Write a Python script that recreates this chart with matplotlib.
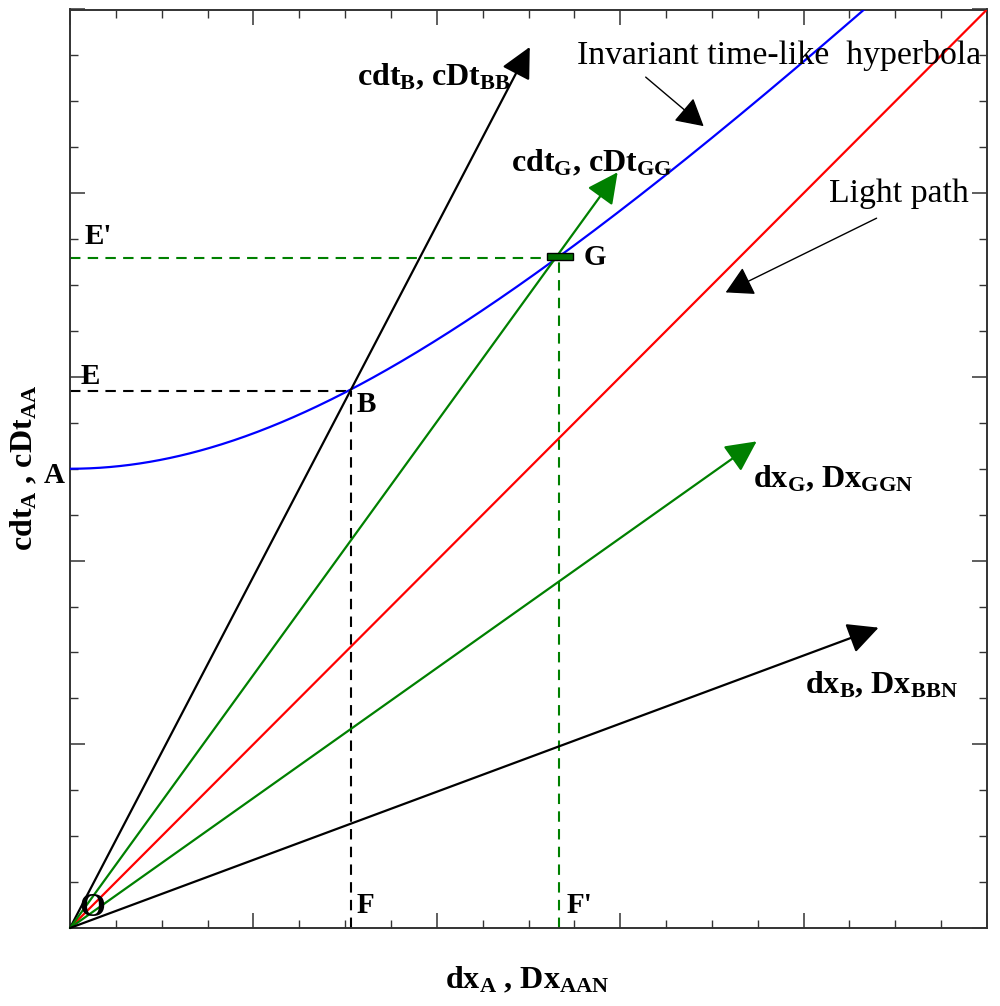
import matplotlib
matplotlib.use("Agg")
import matplotlib.pyplot as plt
import numpy as np
from matplotlib.patches import Rectangle
from matplotlib.ticker import MultipleLocator

plt.rcParams['font.family'] = ['Liberation Serif', 'DejaVu Serif']
plt.rcParams['mathtext.fontset'] = 'custom'
plt.rcParams['mathtext.rm'] = 'Liberation Serif:bold'
plt.rcParams['mathtext.bf'] = 'Liberation Serif:bold'
plt.rcParams['mathtext.it'] = 'Liberation Serif:bold'

# ---- data ----
axis_max = 5.0
interval_s = 2.5                     # invariant interval: hyperbola vertex A
hyper_x_end = 4.34                   # where hyperbola leaves the frame
light_path = [(0.0, 0.0), (5.0, 5.0)]
cdtB_tip = (2.507, 4.796)
cdtG_tip = (2.986, 4.114)
dxG_tip = (3.744, 2.649)
dxB_tip = (4.409, 1.635)
point_B = (1.531, 2.925)
point_G = (2.665, 3.646)
g_marker = (2.60, 3.635, 0.141, 0.038)   # x, y, w, h

labels_pts = ['O', 'F', "F'", 'A', 'E', "E'", 'B', 'G']
labels_xy = [(0.12, 0.11), (1.61, 0.125), (2.78, 0.125), (-0.085, 2.463),
             (0.11, 3.0), (0.155, 3.766), (1.613, 2.85), (2.86, 3.651)]
labels_size = [24, 21, 21, 21, 21, 21, 21, 21]

vec_labels = [r'cdt$_\mathrm{B}$, cDt$_\mathrm{BB}$', r'cdt$_\mathrm{G}$, cDt$_\mathrm{GG}$',
              r'dx$_\mathrm{G}$, Dx$_\mathrm{GGN}$', r'dx$_\mathrm{B}$, Dx$_\mathrm{BBN}$']
vec_labels_xy = [(1.984, 4.63), (2.845, 4.165), (4.163, 2.44), (4.425, 1.32)]

notes = ['Invariant time-like  hyperbola', 'Light path']
notes_xy = [(3.864, 4.752), (4.518, 3.995)]
notes_tail = [(3.139, 4.632), (4.398, 3.864)]
notes_tip = [(3.455, 4.365), (3.575, 3.460)]

xlabel = r'dx$_\mathrm{A}$ , Dx$_\mathrm{AAN}$'
ylabel = r'cdt$_\mathrm{A}$ , cDt$_\mathrm{AA}$'

# ---- figure ----
fig = plt.figure(figsize=(10, 10.06), dpi=100)
ax = fig.add_axes([70/1000, (1006-928)/1006, 917/1000, 918.5/1006])
ax.set_xlim(0, axis_max)
ax.set_ylim(0, axis_max)

for s in ax.spines.values():
    s.set_linewidth(1.4)
    s.set_color('#333333')
ax.xaxis.set_major_locator(MultipleLocator(1))
ax.xaxis.set_minor_locator(MultipleLocator(0.25))
ax.yaxis.set_major_locator(MultipleLocator(1))
ax.yaxis.set_minor_locator(MultipleLocator(0.25))
ax.tick_params(which='both', direction='in', top=True, right=True,
               labelbottom=False, labelleft=False, color='#333333')
ax.tick_params(which='major', length=10.5, width=1.1)
ax.tick_params(which='minor', length=5.5, width=1.0)

# hyperbola
hx = np.linspace(0, hyper_x_end, 400)
hy = np.sqrt(interval_s**2 + hx**2)
ax.plot(hx, hy, color='#0000ff', lw=1.6, zorder=3)

# light path
lx, ly = zip(*light_path)
ax.plot(lx, ly, color='#ff0000', lw=1.6, zorder=3)

# dashed projections
dash = (5, 3.5)
ax.plot([0, point_B[0]], [point_B[1], point_B[1]], color='black', lw=1.5, ls='--', dashes=dash, zorder=2)
ax.plot([point_B[0], point_B[0]], [0, point_B[1]], color='black', lw=1.5, ls='--', dashes=dash, zorder=2)
ax.plot([0, point_G[0]], [point_G[1], point_G[1]], color='#008000', lw=1.5, ls='--', dashes=dash, zorder=2)
ax.plot([point_G[0], point_G[0]], [0, point_G[1]], color='#008000', lw=1.5, ls='--', dashes=dash, zorder=2)

ax.add_patch(Rectangle(g_marker[:2], g_marker[2], g_marker[3], facecolor='#007000',
                       edgecolor='black', lw=1.0, zorder=4))

# vectors
def vec(tip, color):
    ax.annotate('', xy=tip, xytext=(0, 0),
                arrowprops=dict(arrowstyle='-|>,head_length=1.9,head_width=0.95',
                                mutation_scale=10, lw=1.6, color=color,
                                shrinkA=0, shrinkB=0), zorder=3)

vec(cdtB_tip, 'black')
vec(cdtG_tip, '#008000')
vec(dxG_tip, '#008000')
vec(dxB_tip, 'black')

for t, xy, fs in zip(labels_pts, labels_xy, labels_size):
    ax.text(xy[0], xy[1], t, fontsize=fs, fontweight='bold', ha='center', va='center',
            zorder=5, clip_on=False)

for t, xy in zip(vec_labels, vec_labels_xy):
    ax.text(xy[0], xy[1], t, fontsize=23, fontweight='bold', ha='center', va='center', zorder=5)

for t, xy, tail, tip in zip(notes, notes_xy, notes_tail, notes_tip):
    ax.text(xy[0], xy[1], t, fontsize=24.3, ha='center', va='center', zorder=5)
    ax.annotate('', xy=tip, xytext=tail,
                arrowprops=dict(arrowstyle='-|>,head_length=1.7,head_width=0.95',
                                mutation_scale=10, lw=1.0, color='black',
                                shrinkA=0, shrinkB=0))

fig.text(527/1000, 1 - 980/1006, xlabel, fontsize=23, fontweight='bold', ha='center', va='center')
fig.text(24/1000, 1 - 468/1006, ylabel, fontsize=23, fontweight='bold', ha='center', va='center',
         rotation=90)

fig.savefig('out.png', dpi=100)
